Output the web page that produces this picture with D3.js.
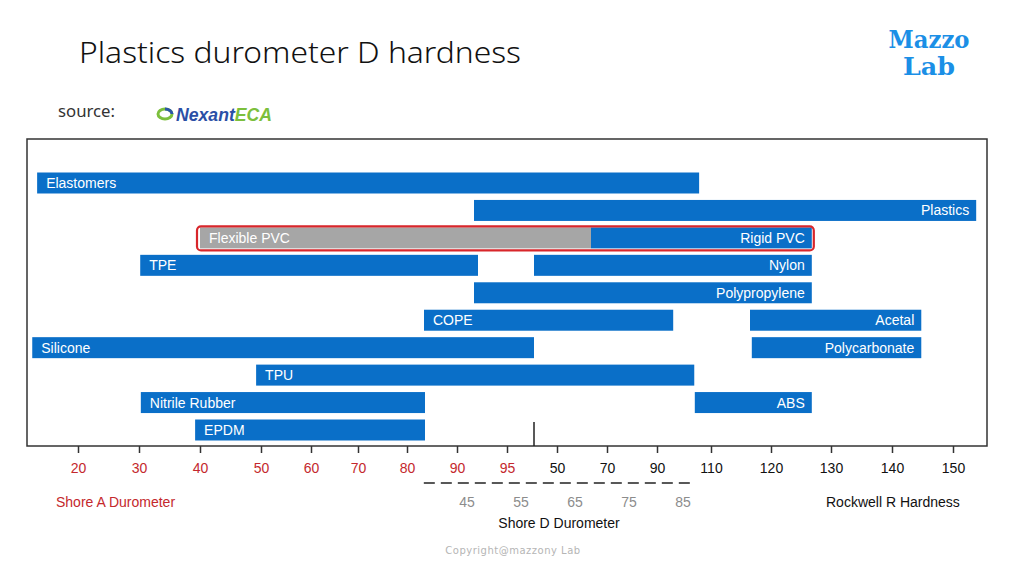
<!DOCTYPE html>
<html>
<head>
<meta charset="utf-8">
<script src="https://cdn.jsdelivr.net/npm/d3@7"></script>
<style>
  body { margin: 0; background: #fff; }
  svg { display: block; font-family: "Liberation Sans", Arial, sans-serif; }
</style>
</head>
<body>
<div id="chart"></div>
<script>
// composite hardness axis: Shore A ticks then Rockwell R ticks
var shoreATicks = [20, 30, 40, 50, 60, 70, 80, 90, 95];
var rockwellTicks = [50, 70, 90, 110, 120, 130, 140, 150];
var shoreDTicks = [45, 55, 65, 75, 85];

// materials, one bar each, ends read in axis-tick units (0 = "20" tick)
var materials = ["Elastomers", "Plastics", "Flexible PVC", "Rigid PVC", "TPE", "Nylon",
  "Polypropylene", "COPE", "Acetal", "Silicone", "Polycarbonate", "TPU",
  "Nitrile Rubber", "ABS", "EPDM"];
var rowOf = [0, 1, 2, 2, 3, 3, 4, 5, 5, 6, 6, 7, 8, 8, 9];
var hardFrom = [-0.67, 7.34, 2.0, 9.68, 1.02, 8.54, 7.34, 6.34, 12.65, -0.75, 12.68, 2.92, 1.03, 11.7, 1.92];
var hardTo = [11.78, 16.38, 9.68, 13.68, 7.42, 13.68, 13.68, 11.3, 15.48, 8.54, 15.48, 11.69, 6.36, 13.68, 6.36];
var labelAt = ["start", "end", "start", "end", "start", "end", "end", "start", "end",
  "start", "end", "start", "start", "end", "start"];

// Shore D scale sits under the 90..90 stretch, dashed line covers its span
var shoreDSpan = [37, 87];
var shoreDMarker = 8.54;

var width = 1024, height = 576;
var svg = d3.select("#chart").append("svg")
  .attr("width", width).attr("height", height);

// tick positions along the frame (axis spacing is not uniform in the source)
var allTicks = shoreATicks.concat(rockwellTicks);
var x = d3.scaleLinear()
  .domain(d3.range(allTicks.length))
  .range([78, 139, 200, 261, 311, 358, 407, 457, 507, 557, 607, 657, 711, 771, 831, 892, 953]);

// extrapolate beyond ends with the outer tick spacing
function xp(v) {
  var n = allTicks.length - 1;
  if (v < 0) return x(0) + v * (x(1) - x(0));
  if (v > n) return x(n) + (v - n) * (x(n) - x(n - 1));
  return x(v);
}

var y = d3.scaleBand()
  .domain(d3.range(10))
  .range([172.5, 440.5])
  .paddingInner(0.235)
  .paddingOuter(0);

var frame = { left: 27, right: 987, top: 139, bottom: 446 };

// title and logos
svg.append("text")
  .attr("x", 79).attr("y", 63)
  .attr("textLength", 442).attr("lengthAdjust", "spacingAndGlyphs")
  .style("font-family", "'Noto Sans', 'Open Sans', sans-serif")
  .style("font-weight", 300)
  .style("font-size", "30px")
  .style("fill", "#111")
  .text("Plastics durometer D hardness");

svg.append("text")
  .attr("x", 929).attr("y", 48)
  .attr("text-anchor", "middle")
  .attr("textLength", 81).attr("lengthAdjust", "spacingAndGlyphs")
  .style("font-family", "'DejaVu Serif', serif")
  .style("font-weight", "bold")
  .style("font-size", "25px")
  .style("fill", "#1b8fe6")
  .text("Mazzo");
svg.append("text")
  .attr("x", 929).attr("y", 75)
  .attr("text-anchor", "middle")
  .attr("textLength", 52).attr("lengthAdjust", "spacingAndGlyphs")
  .style("font-family", "'DejaVu Serif', serif")
  .style("font-weight", "bold")
  .style("font-size", "25px")
  .style("fill", "#1b8fe6")
  .text("Lab");

svg.append("text")
  .attr("x", 58).attr("y", 117)
  .attr("textLength", 57).attr("lengthAdjust", "spacingAndGlyphs")
  .style("font-family", "'Noto Sans', sans-serif")
  .style("font-size", "16px")
  .style("fill", "#333")
  .text("source:");

var logo = svg.append("g").attr("transform", "translate(158,114)");
logo.append("ellipse").attr("cx", 7).attr("cy", 0).attr("rx", 7).attr("ry", 5)
  .style("fill", "none").style("stroke", "#7cbf3c").style("stroke-width", 3);
logo.append("path").attr("d", "M7,-5 A7,5 0 0,1 14,0")
  .style("fill", "none").style("stroke", "#2b55a8").style("stroke-width", 3);
var logoText = logo.append("text").attr("x", 18).attr("y", 7)
  .attr("textLength", 96).attr("lengthAdjust", "spacingAndGlyphs")
  .style("font-weight", "bold").style("font-style", "italic").style("font-size", "18px");
logoText.append("tspan").style("fill", "#2b4fa6").text("Nexant");
logoText.append("tspan").style("fill", "#7cbf3c").text("ECA");

// frame
svg.append("rect")
  .attr("x", frame.left).attr("y", frame.top)
  .attr("width", frame.right - frame.left).attr("height", frame.bottom - frame.top)
  .style("fill", "none").style("stroke", "#333").style("stroke-width", 1.5);

// bars
var bars = svg.append("g").selectAll("g")
  .data(materials.map(function (m, i) {
    return { name: m, row: rowOf[i], from: hardFrom[i], to: hardTo[i], anchor: labelAt[i] };
  }))
  .enter().append("g");

bars.append("rect")
  .attr("x", function (d) { return xp(d.from); })
  .attr("y", function (d) { return y(d.row); })
  .attr("width", function (d) { return xp(d.to) - xp(d.from); })
  .attr("height", y.bandwidth())
  .style("fill", function (d) { return d.name == "Flexible PVC" ? "#a6a6a6" : "#0a6fc8"; });

bars.append("text")
  .attr("x", function (d) { return d.anchor == "start" ? xp(d.from) + 9 : xp(d.to) - 7; })
  .attr("y", function (d) { return y(d.row) + y.bandwidth() / 2; })
  .attr("dy", ".36em")
  .attr("text-anchor", function (d) { return d.anchor; })
  .style("fill", "white")
  .style("font-size", "14px")
  .text(function (d) { return d.name; });

// highlight round the PVC row
var pvcA = materials.indexOf("Flexible PVC"), pvcB = materials.indexOf("Rigid PVC");
svg.append("rect")
  .attr("x", xp(hardFrom[pvcA]) - 3)
  .attr("y", y(rowOf[pvcA]) - 1)
  .attr("width", xp(hardTo[pvcB]) - xp(hardFrom[pvcA]) + 5)
  .attr("height", y.bandwidth() + 3)
  .attr("rx", 4)
  .style("fill", "none").style("stroke", "#d8262b").style("stroke-width", 2.2);

// marker line at the bottom
svg.append("line")
  .attr("x1", xp(shoreDMarker)).attr("x2", xp(shoreDMarker))
  .attr("y1", 422).attr("y2", frame.bottom)
  .style("stroke", "#222").style("stroke-width", 1.5);

// composite axis
var axis = d3.axisBottom(x)
  .tickValues(d3.range(allTicks.length))
  .tickSize(7)
  .tickFormat(function (i) { return allTicks[i]; });

var ax = svg.append("g")
  .attr("transform", "translate(0," + frame.bottom + ")")
  .call(axis);
ax.select(".domain").remove();
ax.selectAll(".tick line").style("stroke", "#333").style("stroke-width", 1.5);
ax.selectAll(".tick text")
  .attr("y", 17)
  .style("font-family", "'Liberation Sans', Arial, sans-serif")
  .style("font-size", "14px")
  .style("fill", function (i) { return i < shoreATicks.length ? "#c4282d" : "#111"; });

// Shore D scale
var xd = d3.scaleLinear()
  .domain([shoreDTicks[0], shoreDTicks[shoreDTicks.length - 1]])
  .range([xp(7.2), xp(11.48)]);

svg.append("line")
  .attr("x1", xd(shoreDSpan[0])).attr("x2", xd(shoreDSpan[1]))
  .attr("y1", 483).attr("y2", 483)
  .style("stroke", "#222").style("stroke-width", 1.5)
  .style("stroke-dasharray", "11,6");

svg.append("g").selectAll("text")
  .data(shoreDTicks).enter().append("text")
  .attr("x", function (d) { return xd(d); })
  .attr("y", 507)
  .attr("text-anchor", "middle")
  .style("font-size", "14px")
  .style("fill", "#8c8c8c")
  .text(function (d) { return d; });

// scale titles
svg.append("text").attr("x", 56).attr("y", 507)
  .style("font-size", "14px").style("fill", "#c4282d")
  .text("Shore A Durometer");
svg.append("text").attr("x", 559).attr("y", 528)
  .attr("text-anchor", "middle")
  .style("font-size", "14px").style("fill", "#111")
  .text("Shore D Durometer");
svg.append("text").attr("x", 826).attr("y", 507)
  .style("font-size", "14px").style("fill", "#111")
  .text("Rockwell R Hardness");

svg.append("text").attr("x", 513).attr("y", 554)
  .attr("text-anchor", "middle")
  .style("font-family", "'DejaVu Sans', sans-serif")
  .style("font-size", "10px").style("letter-spacing", "0.5px")
  .style("fill", "#b5b5b5")
  .text("Copyright@mazzony Lab");
</script>
</body>
</html>
